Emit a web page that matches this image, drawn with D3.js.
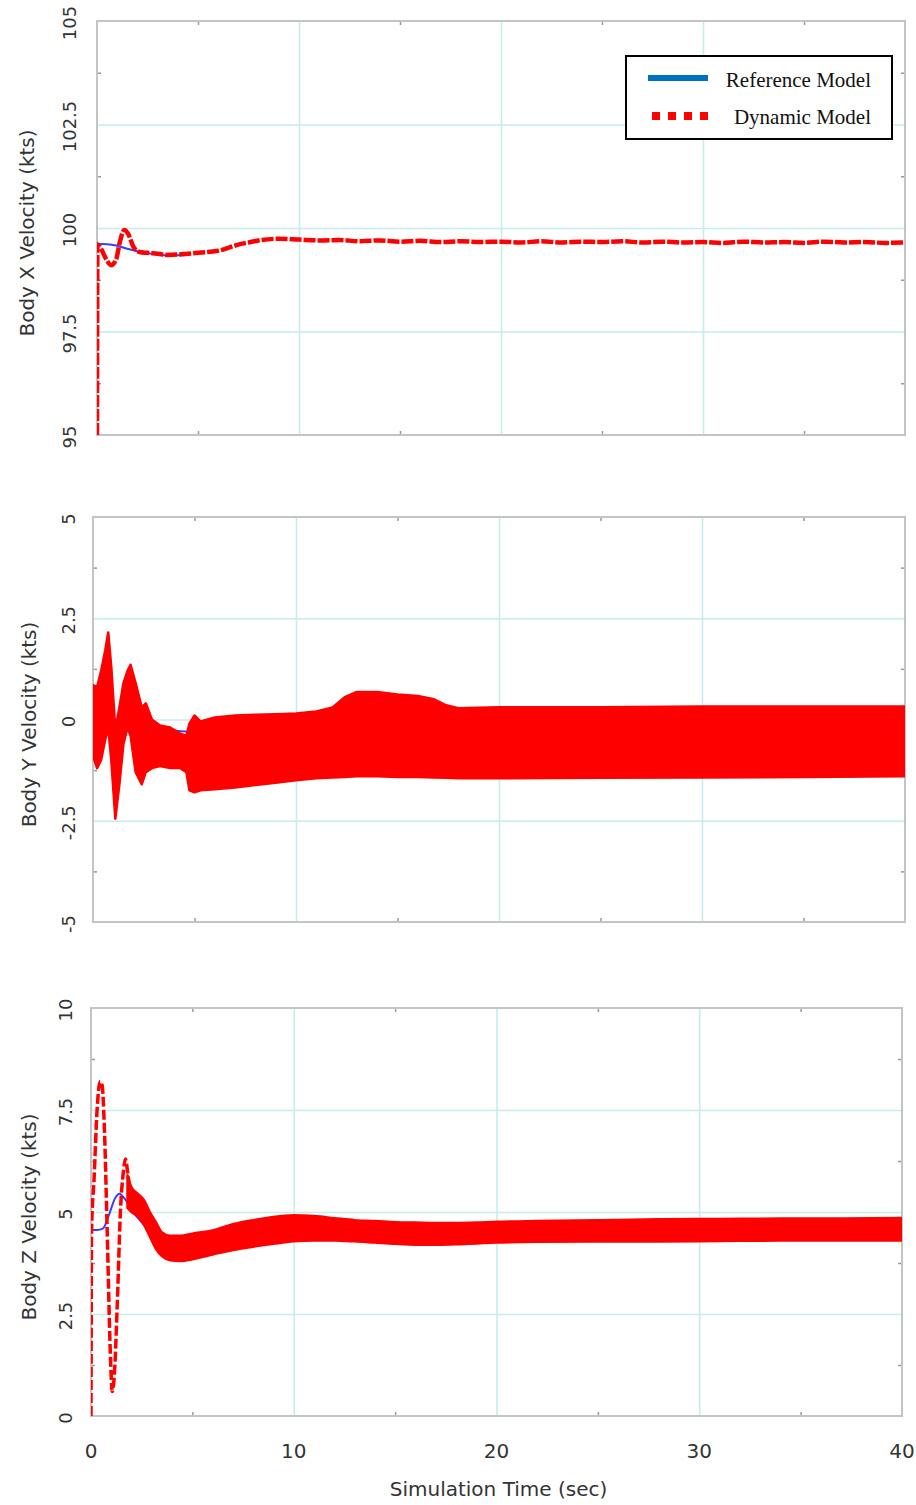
<!DOCTYPE html>
<html>
<head>
<meta charset="utf-8">
<script src="https://cdn.jsdelivr.net/npm/d3@7"></script>
<style>
  body { margin: 0; background: #fff; }
  svg { display: block; }
</style>
</head>
<body>
<script>
/** shared time axis ticks */
const timeTicks = [0, 10, 20, 30, 40]
const timeMinorTicks = [5, 15, 25, 35]

/** Body X velocity */
const xVelTicks = [95, 97.5, 100, 102.5, 105]
const xVelTickLabels = ["95", "97.5", "100", "102.5", "105"]
const xVelMinor = [96.25, 98.75, 101.25, 103.75]
const xRefTime = [0, 0.5, 1, 1.5, 2, 2.5, 3, 3.5, 4, 4.5]
const xRefVal = [99.62, 99.61, 99.57, 99.5, 99.44, 99.39, 99.36, 99.34, 99.34, 99.35]
const xDynTime = [0, 0.02, 0.2, 0.45, 0.7, 0.95, 1.15, 1.35, 1.55, 1.8, 2.1, 2.5, 3, 3.5, 4, 4.5, 5, 5.5, 6, 6.5, 7, 7.5,
  8, 9, 10, 11, 12, 13, 14, 15, 16, 17, 18, 19, 20, 21, 22, 23, 24, 25, 26, 27, 28, 29, 30, 31, 32, 33, 34, 35, 36, 37, 38, 39, 40]
const xDynVal = [95, 99.6, 99.5, 99.25, 99.1, 99.25, 99.7, 99.95, 99.85, 99.55, 99.42, 99.4, 99.38, 99.35, 99.36, 99.38, 99.4, 99.42, 99.45, 99.52, 99.6, 99.65,
  99.7, 99.74, 99.72, 99.7, 99.71, 99.68, 99.7, 99.67, 99.69, 99.66, 99.68, 99.66, 99.67, 99.65, 99.68, 99.65, 99.67, 99.66, 99.68, 99.65, 99.67, 99.65, 99.66,
  99.64, 99.67, 99.65, 99.66, 99.64, 99.67, 99.65, 99.66, 99.64, 99.65]

/** Body Y velocity */
const yVelTicks = [-5, -2.5, 0, 2.5, 5]
const yVelTickLabels = ["-5", "-2.5", "0", "2.5", "5"]
const yVelMinor = [-3.75, -1.25, 1.25, 3.75]
const yRefTime = [0, 0.5, 1, 1.5, 2, 3, 5, 10, 20, 30, 40]
const yRefVal = [0, -0.05, -0.15, -0.22, -0.25, -0.25, -0.3, -0.3, -0.3, -0.3, -0.3]
const yBandTime = [0, 0.2, 0.4, 0.6, 0.75, 0.9, 1.1, 1.3, 1.5, 1.7, 1.85, 2.1, 2.4, 2.6, 2.9, 3.3, 3.8, 4.3, 4.6, 4.75, 5.0, 5.3,
  6, 7, 8, 9, 10, 11, 11.8, 12.4, 13, 14, 15, 16, 16.8, 17.4, 18, 20, 25, 30, 35, 40]
const yBandHigh = [0.85, 0.8, 1.2, 1.7, 2.15, 1.3, -0.25, 0.3, 0.9, 1.2, 1.35, 0.9, 0.3, 0.4, 0.0, -0.15, -0.2, -0.35, -0.4, -0.1, 0.1, -0.05,
  0.05, 0.1, 0.12, 0.13, 0.15, 0.2, 0.3, 0.55, 0.68, 0.68, 0.62, 0.58, 0.5, 0.35, 0.28, 0.3, 0.3, 0.32, 0.32, 0.32]
const yBandLow = [-0.9, -1.2, -1.0, -0.5, -0.2, -1.0, -2.45, -1.6, -0.6, -0.2, -0.4, -1.3, -1.6, -1.3, -1.2, -1.15, -1.2, -1.2, -1.3, -1.75, -1.8, -1.75,
  -1.72, -1.68, -1.62, -1.56, -1.5, -1.45, -1.43, -1.42, -1.4, -1.4, -1.42, -1.42, -1.43, -1.44, -1.45, -1.45, -1.44, -1.43, -1.42, -1.4]

/** Body Z velocity */
const zVelTicks = [0, 2.5, 5, 7.5, 10]
const zVelTickLabels = ["0", "2.5", "5", "7.5", "10"]
const zVelMinor = [1.25, 3.75, 6.25, 8.75]
const zRefTime = [0, 0.3, 0.6, 0.9, 1.2, 1.4, 1.7, 2.0, 2.4, 2.8, 3.2, 3.6, 4.0, 4.5, 5, 10, 20, 30, 40]
const zRefVal = [4.56, 4.56, 4.6, 4.95, 5.35, 5.45, 5.3, 5.05, 4.8, 4.6, 4.45, 4.37, 4.35, 4.35, 4.36, 4.6, 4.55, 4.55, 4.55]
const zDynTime = [0, 0.03, 0.15, 0.3, 0.45, 0.55, 0.65, 0.8, 0.95, 1.05, 1.15, 1.3, 1.45, 1.6, 1.7, 1.8, 1.9]
const zDynVal = [0, 4.6, 5.8, 7.5, 8.2, 8.1, 7.2, 4.5, 1.6, 0.6, 1.0, 2.8, 5.0, 6.0, 6.3, 6.0, 5.6]
const zBandTime = [1.8, 2.0, 2.3, 2.6, 2.9, 3.2, 3.5, 3.9, 4.4, 5, 6, 7, 8, 9, 10, 11, 12, 13, 14, 15, 16, 17, 18, 19, 20, 22, 25, 28, 31, 34, 37, 40]
const zBandHigh = [5.9, 5.6, 5.45, 5.3, 5.0, 4.75, 4.5, 4.42, 4.42, 4.47, 4.55, 4.7, 4.8, 4.88, 4.92, 4.9, 4.85, 4.8, 4.78, 4.75, 4.74, 4.73, 4.73, 4.74, 4.76, 4.78, 4.8, 4.82, 4.83, 4.84, 4.84, 4.85]
const zBandLow = [5.1, 5.0, 4.9, 4.7, 4.4, 4.1, 3.92, 3.82, 3.8, 3.84, 3.96, 4.07, 4.15, 4.22, 4.28, 4.3, 4.3, 4.28, 4.25, 4.22, 4.2, 4.2, 4.21, 4.23, 4.25, 4.27, 4.28, 4.28, 4.29, 4.3, 4.3, 4.3]

const legendLabels = ["Reference Model", "Dynamic Model"]
const xTitle = "Simulation Time (sec)"

const svg = d3.select("body").append("svg")
  .attr("width", 916)
  .attr("height", 1505)

const FONT = "DejaVu Sans, Verdana, sans-serif"
const GRID = "#c6ecec"
const FRAME = "#c4c4c4"
const RED = "#ff0000"
const BLUE = "#3c3cff"

/** panel layouts (pixels) */
const panels = [
  {left: 97, right: 905, top: 21, bottom: 435, labelX: 76, titleX: 34,
   title: "Body X Velocity (kts)", ticks: xVelTicks, tickLabels: xVelTickLabels, minor: xVelMinor,
   ref: d3.zip(xRefTime, xRefVal), dyn: d3.zip(xDynTime, xDynVal), dynWidth: 4.5, dynDash: "12,2", band: null},
  {left: 93, right: 905, top: 517, bottom: 922, labelX: 75, titleX: 36,
   title: "Body Y Velocity (kts)", ticks: yVelTicks, tickLabels: yVelTickLabels, minor: yVelMinor,
   ref: d3.zip(yRefTime, yRefVal), dyn: null, band: d3.zip(yBandTime, yBandLow, yBandHigh), bandCurve: d3.curveLinear},
  {left: 91, right: 902, top: 1008, bottom: 1416, labelX: 72, titleX: 36,
   title: "Body Z Velocity (kts)", ticks: zVelTicks, tickLabels: zVelTickLabels, minor: zVelMinor,
   ref: d3.zip(zRefTime, zRefVal), dyn: d3.zip(zDynTime, zDynVal), dynWidth: 3.5, dynDash: "10,3",
   band: d3.zip(zBandTime, zBandLow, zBandHigh), bandCurve: d3.curveMonotoneX}
]

panels.forEach((p, i) => drawPanel(p, i === panels.length - 1))

function drawPanel(p, showTime) {
  const x = d3.scaleLinear().domain([0, 40]).range([p.left, p.right])
  const y = d3.scaleLinear().domain([p.ticks[0], p.ticks[p.ticks.length - 1]]).range([p.bottom, p.top])
  const w = p.right - p.left
  const h = p.bottom - p.top
  const g = svg.append("g")

  /** grid lines */
  g.append("g")
    .attr("transform", `translate(0,${p.bottom})`)
    .call(d3.axisBottom(x).tickValues(timeTicks.slice(1, -1)).tickSize(-h).tickFormat(""))
    .call(a => a.select(".domain").remove())
    .selectAll("line").attr("stroke", GRID).attr("stroke-width", 1.6)
  g.append("g")
    .attr("transform", `translate(${p.left},0)`)
    .call(d3.axisLeft(y).tickValues(p.ticks.slice(1, -1)).tickSize(-w).tickFormat(""))
    .call(a => a.select(".domain").remove())
    .selectAll("line").attr("stroke", GRID).attr("stroke-width", 1.6)

  /** minor ticks, inside the frame */
  const minorAxes = [
    [d3.axisBottom(x).tickValues(timeMinorTicks), `translate(0,${p.bottom})`],
    [d3.axisTop(x).tickValues(timeMinorTicks), `translate(0,${p.top})`],
    [d3.axisLeft(y).tickValues(p.minor), `translate(${p.left},0)`],
    [d3.axisRight(y).tickValues(p.minor), `translate(${p.right},0)`]
  ]
  minorAxes.forEach(([ax, tr]) => {
    g.append("g").attr("transform", tr)
      .call(ax.tickSize(-4).tickFormat(""))
      .call(a => a.select(".domain").remove())
      .selectAll("line").attr("stroke", "#999").attr("stroke-width", 1.5)
  })

  /** frame */
  g.append("rect")
    .attr("x", p.left).attr("y", p.top)
    .attr("width", w).attr("height", h)
    .attr("fill", "none").attr("stroke", FRAME).attr("stroke-width", 2)

  const clip = "clip" + p.top
  g.append("clipPath").attr("id", clip)
    .append("rect").attr("x", p.left).attr("y", p.top - 2).attr("width", w).attr("height", h + 4)
  const plot = g.append("g").attr("clip-path", `url(#${clip})`)

  /** reference model */
  plot.append("path")
    .datum(p.ref)
    .attr("d", d3.line().x(d => x(d[0])).y(d => y(d[1])).curve(d3.curveMonotoneX))
    .attr("fill", "none").attr("stroke", BLUE).attr("stroke-width", 2)

  /** dynamic model: dense oscillation drawn as its envelope */
  if (p.band) {
    plot.append("path")
      .datum(p.band)
      .attr("d", d3.area().x(d => x(d[0])).y0(d => y(d[1])).y1(d => y(d[2])).curve(p.bandCurve))
      .attr("fill", RED).attr("stroke", RED).attr("stroke-width", 2.5)
      .attr("stroke-linejoin", "round")
  }
  if (p.dyn) {
    plot.append("path")
      .datum(p.dyn)
      .attr("d", d3.line().x(d => x(d[0])).y(d => y(d[1])).curve(d3.curveMonotoneX))
      .attr("fill", "none").attr("stroke", RED).attr("stroke-width", p.dynWidth)
      .attr("stroke-dasharray", p.dynDash)
  }

  /** y tick labels, rotated */
  g.selectAll(".ylab")
    .data(p.ticks)
    .enter().append("text")
    .attr("transform", d => `translate(${p.labelX},${y(d) + 2}) rotate(-90)`)
    .attr("text-anchor", "middle")
    .attr("font-family", FONT).attr("font-size", 18).attr("fill", "#333")
    .text((d, k) => p.tickLabels[k])

  g.append("text")
    .attr("transform", `translate(${p.titleX},${(p.top + p.bottom) / 2 + 5}) rotate(-90)`)
    .attr("text-anchor", "middle")
    .attr("font-family", FONT).attr("font-size", 20).attr("fill", "#333")
    .text(p.title)

  if (showTime) {
    g.selectAll(".xlab")
      .data(timeTicks)
      .enter().append("text")
      .attr("x", d => x(d)).attr("y", p.bottom + 42)
      .attr("text-anchor", "middle")
      .attr("font-family", FONT).attr("font-size", 20).attr("fill", "#333")
      .text(d => d)
    g.append("text")
      .attr("x", (p.left + p.right) / 2 + 2).attr("y", 1496)
      .attr("text-anchor", "middle")
      .attr("font-family", FONT).attr("font-size", 20).attr("fill", "#333")
      .text(xTitle)
  }
}

/** legend in the top panel */
const legend = svg.append("g")
legend.append("rect")
  .attr("x", 626).attr("y", 56).attr("width", 266).attr("height", 83)
  .attr("fill", "#fff").attr("stroke", "#000").attr("stroke-width", 2)
legend.append("line")
  .attr("x1", 648).attr("x2", 708).attr("y1", 78).attr("y2", 78)
  .attr("stroke", "#0070c0").attr("stroke-width", 6)
legend.append("line")
  .attr("x1", 652).attr("x2", 708).attr("y1", 116).attr("y2", 116)
  .attr("stroke", RED).attr("stroke-width", 8).attr("stroke-dasharray", "8,8")
legend.selectAll(".leg")
  .data(legendLabels)
  .enter().append("text")
  .attr("x", 871).attr("y", (d, i) => 87 + i * 37)
  .attr("text-anchor", "end")
  .attr("font-family", "Liberation Serif, Times New Roman, serif").attr("font-size", 21).attr("fill", "#111")
  .text(d => d)
</script>
</body>
</html>
